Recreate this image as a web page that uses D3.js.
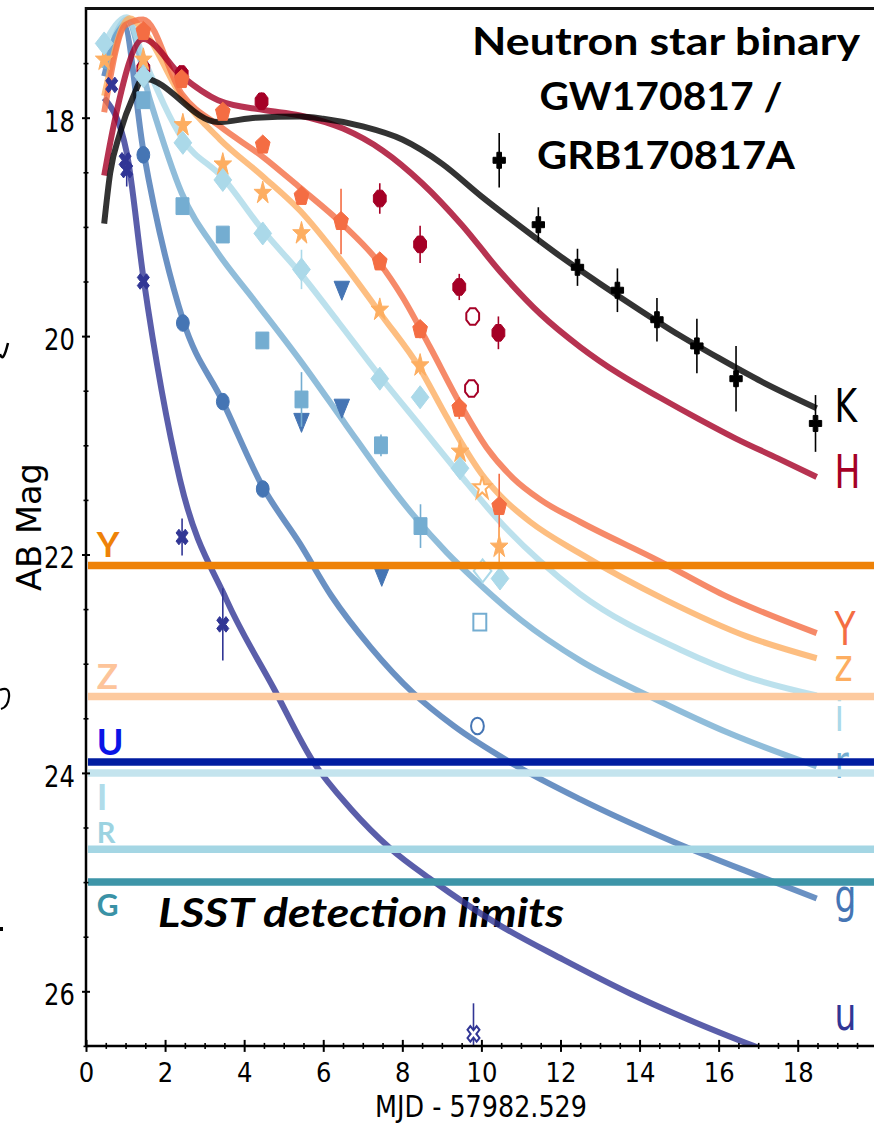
<!DOCTYPE html>
<html><head><meta charset="utf-8">
<script src="https://cdn.jsdelivr.net/npm/d3@7"></script>
<style>html,body{margin:0;padding:0;background:#fff;} svg{display:block;}</style>
</head><body>
<svg id="chart" width="874" height="1124"></svg>
<script>
// ---------------- DATA ----------------
const bands = ["u","g","r","i","z","Y","H","K"];
const bandColors = ["#313695","#4575b4","#74add1","#abd9e9","#fdae61","#f46d43","#a50026","#000000"];
const bandMarkers = ["X","o","s","D","*","p","8","P"];

// model light curves [days, AB mag]
const modelU = [[0.46,17.82],[1.03,18.32],[1.45,19.46],[2.38,21.32],[3.56,22.42],[4.74,23.22],[5.75,23.9],[6.7,24.33],[7.69,24.69],[8.78,24.99],[10.39,25.38],[12.07,25.71],[13.76,26.02],[15.44,26.29],[16.88,26.5],[18.48,26.72]];
const modelG = [[0.46,17.62],[0.95,17.15],[1.45,18.3],[2.45,19.85],[3.46,20.6],[4.47,21.38],[5.41,21.9],[6.21,22.38],[7.2,22.85],[8.28,23.27],[9.3,23.57],[10.81,23.92],[12.49,24.24],[14.85,24.63],[17.13,24.96],[18.48,25.15]];
const modelR = [[0.46,17.55],[1.03,17.1],[1.62,17.84],[2.42,18.69],[3.3,19.22],[4.23,19.66],[5.41,20.22],[6.59,20.82],[7.44,21.25],[8.28,21.64],[9.12,21.98],[9.8,22.22],[11.0,22.6],[12.49,22.97],[14.43,23.33],[16.29,23.64],[18.48,23.94]];
const modelI = [[0.46,17.32],[1.03,17.08],[1.45,17.45],[2.45,18.2],[3.46,18.55],[4.47,19.03],[5.41,19.42],[6.4,19.88],[7.44,20.37],[8.45,20.82],[9.46,21.27],[10.47,21.7],[11.48,22.06],[12.49,22.36],[15.02,22.87],[16.71,23.12],[18.48,23.29]];
const modelZ = [[0.46,17.8],[1.1,17.09],[1.45,17.2],[2.42,17.81],[3.39,18.2],[4.48,18.54],[5.41,18.85],[6.5,19.33],[7.5,19.82],[8.45,20.3],[9.0,20.66],[9.5,20.98],[10.0,21.26],[10.5,21.47],[11.23,21.7],[12.49,21.99],[14.68,22.42],[16.71,22.75],[18.48,22.95]];
const modelY = [[0.46,17.95],[1.0,17.15],[1.45,17.1],[2.42,17.78],[3.39,18.08],[4.48,18.36],[5.41,18.64],[6.5,18.98],[7.44,19.34],[8.0,19.64],[8.7,20.1],[9.46,20.62],[10.13,21.02],[10.8,21.3],[11.5,21.5],[12.49,21.7],[14.5,22.06],[16.12,22.37],[18.48,22.72]];
const modelH = [[0.46,18.53],[0.7,18.07],[1.45,17.28],[2.42,17.62],[3.34,17.84],[4.5,17.93],[5.41,17.98],[6.5,18.1],[7.5,18.3],[8.5,18.6],[9.5,18.98],[10.5,19.42],[11.5,19.8],[12.5,20.1],[13.5,20.35],[14.5,20.56],[15.5,20.76],[16.5,20.95],[17.5,21.12],[18.48,21.29]];
const modelK = [[0.46,18.97],[0.61,18.51],[0.86,18.14],[1.19,17.81],[1.45,17.64],[3.34,18.04],[4.3,18.0],[5.4,17.99],[6.0,18.01],[7.0,18.08],[8.0,18.2],[9.0,18.42],[10.0,18.72],[11.0,19.0],[12.0,19.27],[13.0,19.52],[14.0,19.76],[15.0,19.99],[16.0,20.2],[17.0,20.4],[18.48,20.66]];
const models = [modelU, modelG, modelR, modelI, modelZ, modelY, modelH, modelK];

// observations [days, mag, error]
const obsU = [[0.65,17.70,0.05],[0.99,18.39,0.05],[1.03,18.48,0.15],[1.45,19.50,0.05],[2.43,21.84,0.17],[3.46,22.64,0.33]];
const obsG = [[1.45,18.34,0.05],[2.45,19.88,0.05],[3.46,20.60,0.05],[4.47,21.40,0.06]];
const obsR = [[1.45,17.84,0.03],[2.44,18.81,0.03],[3.46,19.07,0.04],[4.46,20.04,0.05],[5.45,20.58,0.25],[7.46,21.00,0.10],[8.46,21.74,0.20]];
const obsI = [[0.46,17.32,0.03],[1.45,17.62,0.03],[2.45,18.23,0.03],[3.46,18.57,0.03],[4.47,19.06,0.04],[5.45,19.39,0.18],[7.43,20.39,0.06],[8.45,20.56,0.06],[9.46,21.21,0.08],[10.47,22.22,0.06]];
const obsZ = [[0.46,17.47,0.03],[1.45,17.47,0.03],[2.45,18.07,0.03],[3.46,18.43,0.03],[4.47,18.69,0.04],[5.45,19.06,0.05],[7.43,19.76,0.06],[8.45,20.27,0.08],[9.46,21.06,0.08],[10.45,21.93,0.18]];
const obsY = [[1.45,17.21,0.03],[2.42,17.65,0.03],[3.46,17.95,0.03],[4.47,18.25,0.04],[5.45,18.72,0.05],[6.45,18.95,0.30],[7.43,19.32,0.05],[8.45,19.94,0.08],[9.44,20.66,0.10],[10.45,21.56,0.30]];
const obsH = [[1.45,17.55,0.03],[2.42,17.60,0.03],[4.44,17.85,0.08],[7.43,18.74,0.14],[8.45,19.16,0.17],[9.44,19.55,0.12],[10.43,19.97,0.15]];
const obsK = [[10.45,18.39,0.25],[11.44,18.98,0.16],[12.43,19.37,0.17],[13.44,19.58,0.20],[14.44,19.85,0.20],[15.45,20.09,0.25],[16.44,20.39,0.30],[18.45,20.80,0.26]];
const observations = [obsU, obsG, obsR, obsI, obsZ, obsY, obsH, obsK];

// open (hollow) symbols
const openU = [[9.8,26.39,0.28]];
const openG = [[9.9,23.57,0]];
const openR = [[9.96,22.62,0]];
const openI = [[10.03,22.15,0]];
const openZ = [[10.02,21.39,0]];
const openH = [[9.78,19.82,0],[9.75,20.48,0]];
const openPoints = [openU, openG, openR, openI, openZ, [], openH, []];

// downward triangles (limits)
const limitPoints = [[5.45,20.79],[6.47,20.66],[6.47,19.58],[7.48,22.20]];
const limitColor = "#4575b4";

// end-of-curve labels
const endLabels = ["u","g","r","i","z","Y","H","K"];
const endLabelMag = [26.35,25.27,24.05,23.62,23.16,22.83,21.39,20.79];

// LSST detection limits
const lsstBands = ["Y","Z","U","I","R","G"];
const lsstMags = [22.1,23.3,23.9,24.0,24.7,25.0];
const lsstLineColors = ["#ee8208","#fdca9f","#001ca0","#c4e4ee","#a4d6e4","#3d95a8"];
const lsstLabelColors = ["#ee8208","#fdc49a","#0a14e6","#b0dcea","#9cd3e1","#3a92a6"];

// axes
const xMajorTicks = [0,2,4,6,8,10,12,14,16,18];
const yMajorTicks = [18,20,22,24,26];
const xMinorTicks = d3.range(0.5,20,1).concat(d3.range(1,20,2));
const yMinorTicks = [17.5,18.5,19,19.5,20.5,21,21.5,22.5,23,23.5,24.5,25,25.5,26.5];

const titleLines = ["Neutron star binary","GW170817 /","GRB170817A"];
const lsstText = "LSST detection limits";
const xLabel = "MJD - 57982.529";
const yLabel = "AB Mag";

// ---------------- DRAWING ----------------
const W = 874, H = 1124;
const SQ = 0.77; // horizontal compression of the original figure
const svg = d3.select("#chart");
const x = d3.scaleLinear().domain([0,20]).range([86,876.8]);
const y = d3.scaleLinear().domain([17,26.5]).range([8.5,1045.9]);
const x0 = x(0), yb = y(26.5), yt = y(17);

svg.append("defs").append("clipPath").attr("id","plot")
  .append("rect").attr("x",x0).attr("y",yt).attr("width",W-x0).attr("height",yb-yt);

// LSST caption (under curves)
svg.append("text").attr("x",158).attr("y",927)
  .attr("font-family","Lato, 'Open Sans', sans-serif").attr("font-weight",700).attr("font-style","italic")
  .attr("font-size",40).attr("textLength",406).attr("lengthAdjust","spacingAndGlyphs")
  .attr("fill","#000").text(lsstText);

const plotG = svg.append("g").attr("clip-path","url(#plot)");

// model curves
const line = d3.line().x(d=>x(d[0])).y(d=>y(d[1])).curve(d3.curveMonotoneX);
models.forEach((m,i)=>{
  plotG.append("path").attr("d",line(m)).attr("fill","none")
    .attr("stroke",bandColors[i]).attr("stroke-opacity",0.8)
    .attr("stroke-width",6).attr("stroke-linejoin","round");
});

// marker shapes
function poly(n,R,rot){
  const p=[]; for(let k=0;k<n;k++){const a=-Math.PI/2+rot+k*2*Math.PI/n; p.push([R*Math.cos(a),R*Math.sin(a)]);}
  return "M"+p.map(q=>q[0].toFixed(2)+","+q[1].toFixed(2)).join("L")+"Z";
}
function star(R,r){
  const p=[]; for(let k=0;k<10;k++){const a=-Math.PI/2+k*Math.PI/5; const rr=k%2?r:R; p.push([rr*Math.cos(a),rr*Math.sin(a)]);}
  return "M"+p.map(q=>q[0].toFixed(2)+","+q[1].toFixed(2)).join("L")+"Z";
}
function plus(L,w,rot){
  const pts=[[-w,-L],[w,-L],[w,-w],[L,-w],[L,w],[w,w],[w,L],[-w,L],[-w,w],[-L,w],[-L,-w],[-w,-w]];
  const c=Math.cos(rot), s=Math.sin(rot);
  return "M"+pts.map(q=>(q[0]*c-q[1]*s).toFixed(2)+","+(q[0]*s+q[1]*c).toFixed(2)).join("L")+"Z";
}
function shape(kind){
  switch(kind){
    case "o": return "M8.3,0A8.3,8.3 0 1,1 -8.3,0A8.3,8.3 0 1,1 8.3,0Z";
    case "s": return "M-8.4,-8.4L8.4,-8.4L8.4,8.4L-8.4,8.4Z";
    case "D": return "M0,-11.5L11.5,0L0,11.5L-11.5,0Z";
    case "*": return star(12,4.6);
    case "p": return poly(5,10,0);
    case "8": return poly(8,9,Math.PI/8);
    case "X": return plus(8.4,2.6,Math.PI/4);
    case "P": return plus(8,3,0);
    case "v": return "M-10,-9L10,-9L0,10Z";
  }
}

const drawOrder = [6,7,5,4,3,2,1,0];
const markG = plotG.append("g");
function drawPoints(pts, i, open){
  const col = bandColors[i];
  pts.forEach(p=>{
    if(p[2]>0.06){
      markG.append("line").attr("x1",x(p[0])).attr("x2",x(p[0]))
        .attr("y1",y(p[1]-p[2])).attr("y2",y(p[1]+p[2]))
        .attr("stroke",col).attr("stroke-width",1.6);
    }
    markG.append("path").attr("d",shape(bandMarkers[i]))
      .attr("transform",`translate(${x(p[0])},${y(p[1])}) scale(${SQ},1)`)
      .attr("fill",open?"#fff":col).attr("stroke",col)
      .attr("stroke-width",open?2:1).attr("vector-effect","non-scaling-stroke");
  });
}
limitPoints.forEach(p=>{
  markG.append("path").attr("d",shape("v"))
    .attr("transform",`translate(${x(p[0])},${y(p[1])}) scale(${SQ},1)`)
    .attr("fill",limitColor).attr("stroke",limitColor).attr("stroke-width",1)
    .attr("vector-effect","non-scaling-stroke");
});
drawOrder.forEach(i=>{ drawPoints(openPoints[i], i, true); drawPoints(observations[i], i, false); });

// end labels
endLabels.forEach((t,i)=>{
  svg.append("text").attr("transform",`translate(${x(18.93)},${y(endLabelMag[i])}) scale(0.75,1)`)
    .attr("font-family","'DejaVu Sans', sans-serif").attr("font-size",46)
    .attr("fill",bandColors[i]).text(t);
});

// LSST horizontal lines and labels
const lblOffset = [-8.7,-7.7,-7.3,37,-6,34];
const lblSize = [35,35,36,36,29,30];
lsstMags.forEach((m,i)=>{
  svg.append("line").attr("x1",x0+2).attr("x2",W).attr("y1",y(m)).attr("y2",y(m))
    .attr("stroke",lsstLineColors[i]).attr("stroke-width",7.5);
  svg.append("text").attr("x",x(0.27)).attr("y",y(m)+lblOffset[i])
    .attr("font-family","Lato, 'Open Sans', sans-serif").attr("font-weight",700)
    .attr("font-size",lblSize[i]).attr("fill",lsstLabelColors[i]).text(lsstBands[i]);
});

// axes
const axFont = "'DejaVu Sans', sans-serif";
const gx = svg.append("g").attr("transform",`translate(0,${yb})`)
  .call(d3.axisBottom(x).tickValues(xMajorTicks).tickFormat(d3.format("d")).tickSizeOuter(0).tickSize(6));
gx.select(".domain").remove();
gx.selectAll(".tick line").attr("y1",-6).attr("y2",6).attr("stroke","#000").attr("stroke-width",2);
gx.selectAll(".tick text").attr("y",36).attr("dy",0).attr("font-size",27).attr("font-family",axFont)
  .attr("fill","#000").attr("transform","scale(0.9,1)");
const gxm = svg.append("g").attr("transform",`translate(0,${yb})`)
  .call(d3.axisBottom(x).tickValues(xMinorTicks).tickFormat("").tickSizeOuter(0).tickSize(3));
gxm.select(".domain").remove();
gxm.selectAll(".tick line").attr("y1",-3).attr("y2",3).attr("stroke","#000").attr("stroke-width",1.6);

const gy = svg.append("g").attr("transform",`translate(${x0},0)`)
  .call(d3.axisLeft(y).tickValues(yMajorTicks).tickFormat(d3.format("d")).tickSizeOuter(0).tickSize(4));
gy.select(".domain").remove();
gy.selectAll(".tick line").attr("x1",4).attr("x2",-4).attr("stroke","#000").attr("stroke-width",2);
gy.selectAll(".tick text").attr("x",-14.3).attr("dy","0.43em").attr("font-size",31).attr("font-family",axFont)
  .attr("fill","#000").attr("transform","scale(0.78,1)");
const gym = svg.append("g").attr("transform",`translate(${x0},0)`)
  .call(d3.axisLeft(y).tickValues(yMinorTicks).tickFormat("").tickSizeOuter(0).tickSize(3));
gym.select(".domain").remove();
gym.selectAll(".tick line").attr("x1",2.5).attr("x2",-2.5).attr("stroke","#000").attr("stroke-width",1.6);

// axis lines and top frame
svg.append("line").attr("x1",x0).attr("x2",W).attr("y1",yb).attr("y2",yb).attr("stroke","#000").attr("stroke-width",2.5);
svg.append("line").attr("x1",x0).attr("x2",x0).attr("y1",yt-1.5).attr("y2",yb+1).attr("stroke","#000").attr("stroke-width",2.5);
svg.append("line").attr("x1",x0-1).attr("x2",W).attr("y1",yt).attr("y2",yt).attr("stroke","#111").attr("stroke-width",3);

// axis titles
svg.append("text").attr("x",481).attr("y",1117).attr("text-anchor","middle")
  .attr("font-family",axFont).attr("font-size",30).attr("textLength",212).attr("lengthAdjust","spacingAndGlyphs")
  .attr("fill","#000").text(xLabel);
svg.append("text").attr("transform","translate(41,527) rotate(-90)").attr("text-anchor","middle")
  .attr("font-family",axFont).attr("font-size",33).attr("textLength",128).attr("lengthAdjust","spacingAndGlyphs")
  .attr("fill","#000").text(yLabel);

// title
const titleBase = [55,110,169];
const titleX = [666,661,666];
const titleLen = [388,243,258];
titleLines.forEach((t,i)=>{
  svg.append("text").attr("x",titleX[i]).attr("y",titleBase[i]).attr("text-anchor","middle")
    .attr("font-family","Lato, 'Open Sans', sans-serif").attr("font-weight",700).attr("font-size",38)
    .attr("textLength",titleLen[i]).attr("lengthAdjust","spacingAndGlyphs").attr("fill","#000").text(t);
});

// fragments of a neighbouring panel at the left edge
svg.append("path").attr("d","M0,354 Q3,364 8,343").attr("fill","none").attr("stroke","#000").attr("stroke-width",2.5);
svg.append("path").attr("d","M0,690 Q10,686 9,697 Q8,707 1,709").attr("fill","none").attr("stroke","#000").attr("stroke-width",2.2);
svg.append("rect").attr("x",0).attr("y",927).attr("width",3).attr("height",4).attr("fill","#000");
</script>
</body></html>
